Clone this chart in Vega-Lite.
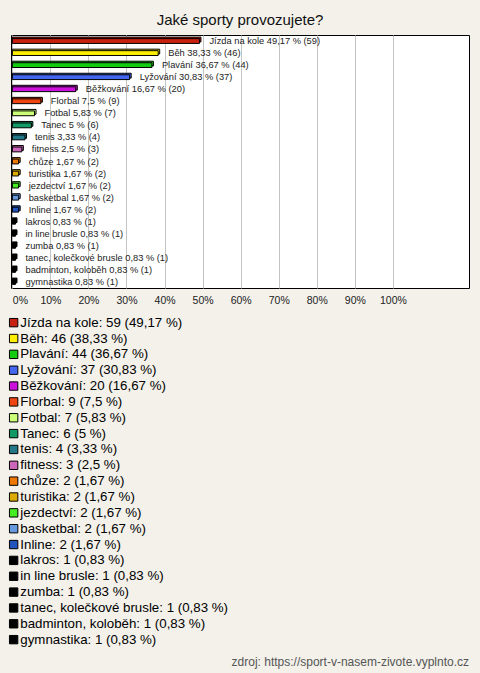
{
  "$schema": "https://vega.github.io/schema/vega-lite/v6.json",
  "background": "#f3f1ea",
  "padding": {"left": 10, "right": 12, "top": 12, "bottom": 4},
  "title": {"text": "Jaké sporty provozujete?", "fontSize": 15, "font": "Liberation Sans", "fontWeight": "normal", "color": "#111", "anchor": "middle", "offset": 7},
  "config": {
    "font": "Liberation Sans",
    "view": {"stroke": "#000", "strokeWidth": 1, "fill": "#ffffff"}
  },
  "spacing": 8,
  "resolve": {"scale": {"color": "independent"}, "legend": {"color": "independent"}},
  "vconcat": [
    {
      "width": 458,
      "height": 253,
      "data": {"values": [
        {"sport": "Jízda na kole", "count": 59, "pct": 49.17, "pctText": "49,17"},
        {"sport": "Běh", "count": 46, "pct": 38.33, "pctText": "38,33"},
        {"sport": "Plavání", "count": 44, "pct": 36.67, "pctText": "36,67"},
        {"sport": "Lyžování", "count": 37, "pct": 30.83, "pctText": "30,83"},
        {"sport": "Běžkování", "count": 20, "pct": 16.67, "pctText": "16,67"},
        {"sport": "Florbal", "count": 9, "pct": 7.5, "pctText": "7,5"},
        {"sport": "Fotbal", "count": 7, "pct": 5.83, "pctText": "5,83"},
        {"sport": "Tanec", "count": 6, "pct": 5, "pctText": "5"},
        {"sport": "tenis", "count": 4, "pct": 3.33, "pctText": "3,33"},
        {"sport": "fitness", "count": 3, "pct": 2.5, "pctText": "2,5"},
        {"sport": "chůze", "count": 2, "pct": 1.67, "pctText": "1,67"},
        {"sport": "turistika", "count": 2, "pct": 1.67, "pctText": "1,67"},
        {"sport": "jezdectví", "count": 2, "pct": 1.67, "pctText": "1,67"},
        {"sport": "basketbal", "count": 2, "pct": 1.67, "pctText": "1,67"},
        {"sport": "Inline", "count": 2, "pct": 1.67, "pctText": "1,67"},
        {"sport": "lakros", "count": 1, "pct": 0.83, "pctText": "0,83"},
        {"sport": "in line brusle", "count": 1, "pct": 0.83, "pctText": "0,83"},
        {"sport": "zumba", "count": 1, "pct": 0.83, "pctText": "0,83"},
        {"sport": "tanec, kolečkové brusle", "count": 1, "pct": 0.83, "pctText": "0,83"},
        {"sport": "badminton, koloběh", "count": 1, "pct": 0.83, "pctText": "0,83"},
        {"sport": "gymnastika", "count": 1, "pct": 0.83, "pctText": "0,83"}
      ]},
      "transform": [
        {"calculate": "datum.sport + ' ' + datum.pctText + ' % (' + datum.count + ')'", "as": "barLabel"},
        {"calculate": "datum.sport + ': ' + datum.count + ' (' + datum.pctText + ' %)'", "as": "legendLabel"}
      ],
      "encoding": {
        "y": {"field": "sport", "type": "nominal", "sort": null, "axis": null,
              "scale": {"paddingInner": 0.6, "paddingOuter": 0.3}},
        "x": {"field": "pct", "type": "quantitative",
              "scale": {"domain": [-0.35, 120], "nice": false, "zero": false},
              "axis": {"title": null, "values": [0, 10, 20, 30, 40, 50, 60, 70, 80, 90, 100],
                       "labelExpr": "datum.value + '%'", "grid": true, "gridColor": "#c4c4c4",
                       "domain": false, "ticks": false, "labelPadding": 7, "labelFontSize": 10.5,
                       "labelColor": "#222", "labelFlush": 3}}
      },
      "layer": [
        {
          "mark": {"type": "bar", "stroke": "#000", "strokeWidth": 1, "xOffset": 1.5, "yOffset": -1.5},
          "encoding": {
            "x2": {"datum": 0},
            "color": {"field": "legendLabel", "type": "nominal"}
          }
        },
        {
          "mark": {"type": "bar", "stroke": "#000", "strokeWidth": 1},
          "encoding": {
            "x2": {"datum": 0},
            "color": {"field": "legendLabel", "type": "nominal",
              "scale": {
                "domain": ["Jízda na kole: 59 (49,17 %)", "Běh: 46 (38,33 %)", "Plavání: 44 (36,67 %)", "Lyžování: 37 (30,83 %)", "Běžkování: 20 (16,67 %)", "Florbal: 9 (7,5 %)", "Fotbal: 7 (5,83 %)", "Tanec: 6 (5 %)", "tenis: 4 (3,33 %)", "fitness: 3 (2,5 %)", "chůze: 2 (1,67 %)", "turistika: 2 (1,67 %)", "jezdectví: 2 (1,67 %)", "basketbal: 2 (1,67 %)", "Inline: 2 (1,67 %)", "lakros: 1 (0,83 %)", "in line brusle: 1 (0,83 %)", "zumba: 1 (0,83 %)", "tanec, kolečkové brusle: 1 (0,83 %)", "badminton, koloběh: 1 (0,83 %)", "gymnastika: 1 (0,83 %)"],
                "range": ["#c8200e", "#ffee00", "#11cc11", "#4466ee", "#cc11dd", "#ee4411", "#ccff77", "#119966", "#227788", "#cc66bb", "#ee7700", "#ddaa00", "#44ee22", "#6699dd", "#2255bb", "#000000", "#000000", "#000000", "#000000", "#000000", "#000000"]
              },
              "legend": {"title": null, "orient": "bottom", "offset": 10, "direction": "vertical", "columns": 1,
                         "symbolType": "square", "symbolSize": 70, "symbolStrokeColor": "#000", "symbolStrokeWidth": 1,
                         "symbolOpacity": 1, "symbolOffset": -4, "labelFontSize": 13.3, "labelColor": "#000", "labelOffset": 0,
                         "rowPadding": 1.85, "padding": 0, "labelLimit": 400}
            }
          }
        },
        {
          "mark": {"type": "text", "align": "left", "baseline": "middle", "dx": 10, "fontSize": 9.3, "color": "#222"},
          "encoding": {"text": {"field": "barLabel"}}
        }
      ]
    },
    {
      "width": 458,
      "height": 1,
      "view": {"stroke": null, "fill": null},
      "title": {"text": "zdroj: https://sport-v-nasem-zivote.vyplnto.cz", "orient": "top", "anchor": "end", "fontSize": 12, "fontWeight": "normal", "color": "#555", "offset": 0},
      "data": {"values": [{"note": ""}]},
      "mark": {"type": "text"},
      "encoding": {"text": {"field": "note"}}
    }
  ]
}
